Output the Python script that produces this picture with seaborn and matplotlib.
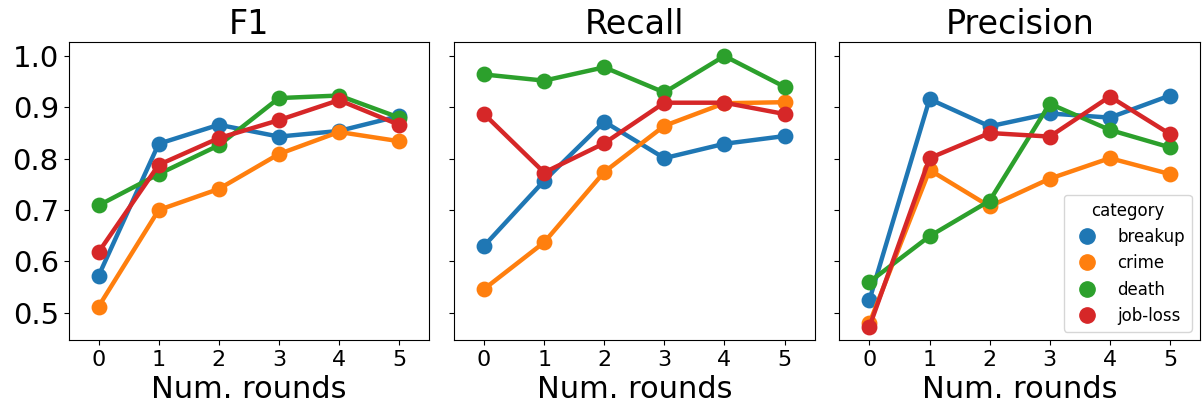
import pandas as pd
import matplotlib
matplotlib.use("Agg")
import matplotlib.pyplot as plt
from matplotlib.lines import Line2D
import seaborn as sns

rounds = [0, 1, 2, 3, 4, 5]
categories = ['breakup', 'crime', 'death', 'job-loss']

# f1 por categoria
f1_breakup = [0.572, 0.829, 0.866, 0.843, 0.854, 0.883]
f1_crime = [0.512, 0.700, 0.741, 0.809, 0.852, 0.834]
f1_death = [0.709, 0.770, 0.826, 0.918, 0.923, 0.880]
f1_jobloss = [0.618, 0.788, 0.840, 0.875, 0.914, 0.866]

# recall por categoria
rec_breakup = [0.630, 0.757, 0.872, 0.801, 0.829, 0.844]
rec_crime = [0.546, 0.637, 0.774, 0.864, 0.908, 0.910]
rec_death = [0.964, 0.952, 0.978, 0.929, 1.000, 0.940]
rec_jobloss = [0.887, 0.773, 0.830, 0.909, 0.909, 0.887]

# precision por categoria
prec_breakup = [0.525, 0.916, 0.863, 0.888, 0.880, 0.923]
prec_crime = [0.480, 0.778, 0.707, 0.761, 0.801, 0.770]
prec_death = [0.560, 0.649, 0.718, 0.907, 0.856, 0.822]
prec_jobloss = [0.473, 0.801, 0.850, 0.843, 0.921, 0.848]

metrics = {
    'F1': [f1_breakup, f1_crime, f1_death, f1_jobloss],
    'Recall': [rec_breakup, rec_crime, rec_death, rec_jobloss],
    'Precision': [prec_breakup, prec_crime, prec_death, prec_jobloss],
}

rows = []
for metric, series in metrics.items():
    for cat, vals in zip(categories, series):
        for r, v in zip(rounds, vals):
            rows.append({'metric': metric, 'category': cat, 'rounds': r, 'value': v})
df = pd.DataFrame(rows)

palette = sns.color_palette('tab10', len(categories))

fig, axes = plt.subplots(1, 3, figsize=(12.03, 4.13), dpi=100, sharey=True)
plt.subplots_adjust(left=0.057, right=0.9975, bottom=0.177, top=0.898, wspace=0.069)

for ax, metric in zip(axes, metrics.keys()):
    sub = df[df['metric'] == metric]
    sns.pointplot(data=sub, x='rounds', y='value', hue='category', hue_order=categories,
                  palette=palette, ax=ax, markersize=9, linewidth=3.2, legend=False)
    ax.set_title(metric, fontsize=24)
    ax.set_xlabel('Num. rounds', fontsize=22)
    ax.set_ylabel('')
    ax.tick_params(axis='x', labelsize=16)
    ax.tick_params(axis='y', labelsize=21)
    ax.set_ylim(0.447, 1.027)
    ax.set_xlim(-0.5, 5.5)

axes[0].set_yticks([0.5, 0.6, 0.7, 0.8, 0.9, 1.0])

# leyenda solo con marcadores
handles = [Line2D([], [], marker='o', linestyle='none', color=c, markersize=11) for c in palette]
axes[2].legend(handles, categories, title='category', loc='lower right',
               fontsize=12, title_fontsize=12)

plt.savefig('out.png', dpi=100)
